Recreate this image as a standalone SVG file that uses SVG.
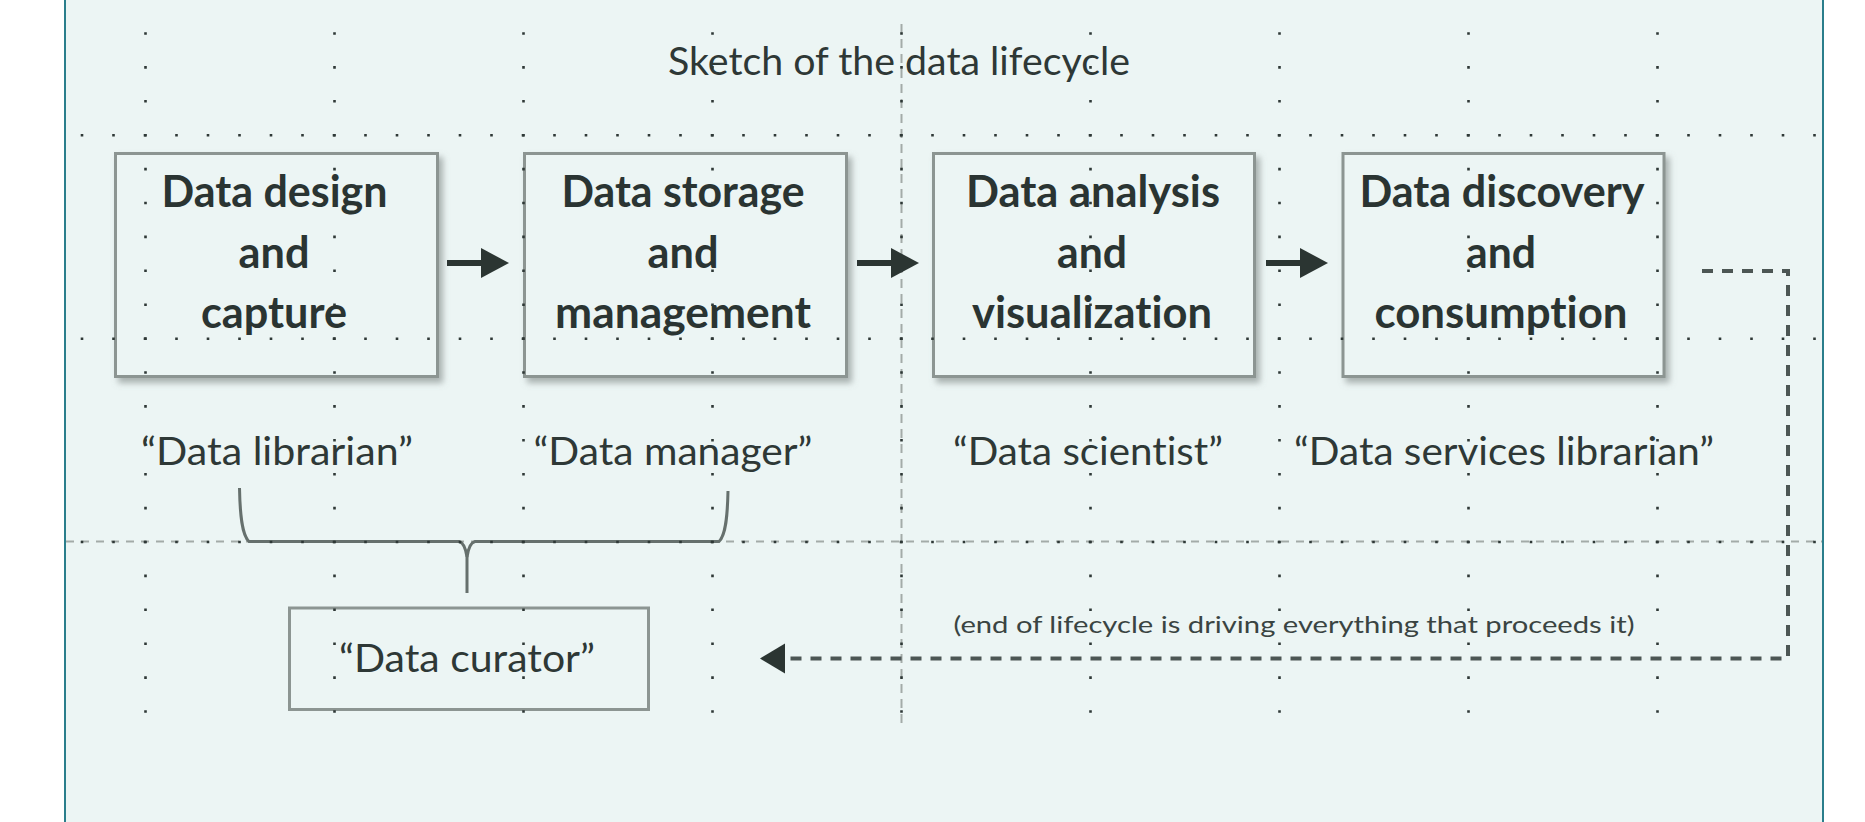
<svg xmlns="http://www.w3.org/2000/svg" width="1865" height="822" viewBox="0 0 1865 822">
  <defs>
    <style>
      text { font-variant-ligatures: none; font-feature-settings: "liga" 0, "dlig" 0, "clig" 0, "calt" 0; }
      .box { fill: #ECF5F4; stroke: #8C9592; stroke-width: 3; }
      .shadow { filter: url(#sh); }
      .bt { font-family: Lato, "Open Sans", sans-serif; font-weight: bold; font-size: 43px; fill: #2A3432; text-anchor: middle; }
      .rt { font-family: Lato, "Open Sans", sans-serif; font-size: 39px; fill: #2E3836; text-anchor: middle; }
      .nt { font-family: Lato, "Open Sans", sans-serif; font-size: 23px; fill: #3A4442; text-anchor: middle; }
      .guide { stroke: #A3ABA8; stroke-width: 2; fill: none; }
      .coldots { stroke: #2E3836; stroke-width: 2.6; stroke-dasharray: 2.6 31.3; fill: none; }
      .rowdots { stroke: #2E3836; stroke-width: 2.6; stroke-dasharray: 2.6 28.9; fill: none; }
      .flow { stroke: #2B3532; stroke-width: 6; fill: none; marker-end: url(#ah); }
      .fb { stroke: #4C5654; stroke-width: 4; stroke-dasharray: 11 9; fill: none; marker-end: url(#ahfb); }
      .brace { stroke: #66706D; stroke-width: 3; fill: none; }
    </style>
    <filter id="sh" x="-10%" y="-10%" width="130%" height="130%">
      <feDropShadow dx="4" dy="5" stdDeviation="3" flood-color="#7A8481" flood-opacity="0.6"/>
    </filter>
    <marker id="ah" markerUnits="userSpaceOnUse" markerWidth="30" markerHeight="32" viewBox="0 -16 30 32" refX="3" refY="0" orient="auto">
      <path d="M0,-15 L28,0 L0,15 Z" fill="#2B3532"/>
    </marker>
    <marker id="ahfb" markerUnits="userSpaceOnUse" markerWidth="28" markerHeight="32" viewBox="0 -16 28 32" refX="0" refY="0" orient="auto">
      <path d="M0,-15 L25,0 L0,15 Z" fill="#2B3532"/>
    </marker>
  </defs>

  <rect x="0" y="0" width="1865" height="822" fill="#FFFFFF"/>
  <rect x="65" y="-4" width="1758" height="830" fill="#ECF5F4" stroke="#2A7E8C" stroke-width="2"/>

  <g id="guides">
    <line class="guide" x1="901.5" y1="24" x2="901.5" y2="723" stroke-dasharray="9 6"/>
    <line class="guide" x1="66" y1="541.5" x2="1822" y2="541.5" stroke-dasharray="8 7"/>
  </g>

  <g id="title">
    <text class="rt" x="899" y="75" textLength="462" lengthAdjust="spacingAndGlyphs">Sketch of the data lifecycle</text>
  </g>

  <g id="node-design">
    <rect class="box shadow" x="115.5" y="153.5" width="322" height="223"/>
    <text class="bt" x="274.5" y="207" textLength="226" lengthAdjust="spacingAndGlyphs">Data design</text>
    <text class="bt" x="274" y="268" textLength="71" lengthAdjust="spacingAndGlyphs">and</text>
    <text class="bt" x="274" y="328" textLength="146" lengthAdjust="spacingAndGlyphs">capture</text>
  </g>

  <g id="node-storage">
    <rect class="box shadow" x="524.5" y="153.5" width="322" height="223"/>
    <text class="bt" x="683" y="207" textLength="243" lengthAdjust="spacingAndGlyphs">Data storage</text>
    <text class="bt" x="683" y="268" textLength="71" lengthAdjust="spacingAndGlyphs">and</text>
    <text class="bt" x="683" y="328" textLength="256" lengthAdjust="spacingAndGlyphs">management</text>
  </g>

  <g id="node-analysis">
    <rect class="box shadow" x="933.5" y="153.5" width="321" height="223"/>
    <text class="bt" x="1093" y="207" textLength="254" lengthAdjust="spacingAndGlyphs">Data analysis</text>
    <text class="bt" x="1092" y="268" textLength="70" lengthAdjust="spacingAndGlyphs">and</text>
    <text class="bt" x="1092" y="328" textLength="240" lengthAdjust="spacingAndGlyphs">visualization</text>
  </g>

  <g id="node-discovery">
    <rect class="box shadow" x="1343" y="153.5" width="321" height="223"/>
    <text class="bt" x="1502" y="207" textLength="285" lengthAdjust="spacingAndGlyphs">Data discovery</text>
    <text class="bt" x="1501" y="268" textLength="70" lengthAdjust="spacingAndGlyphs">and</text>
    <text class="bt" x="1501" y="328" textLength="253" lengthAdjust="spacingAndGlyphs">consumption</text>
  </g>

  <g id="role-librarian">
    <text class="rt" x="277" y="465" textLength="272" lengthAdjust="spacingAndGlyphs">“Data librarian”</text>
  </g>
  <g id="role-manager">
    <text class="rt" x="673" y="465" textLength="279" lengthAdjust="spacingAndGlyphs">“Data manager”</text>
  </g>
  <g id="role-scientist">
    <text class="rt" x="1088" y="465" textLength="270" lengthAdjust="spacingAndGlyphs">“Data scientist”</text>
  </g>
  <g id="role-services">
    <text class="rt" x="1504" y="465" textLength="420" lengthAdjust="spacingAndGlyphs">“Data services librarian”</text>
  </g>

  <g id="node-curator">
    <rect class="box" x="289.5" y="608" width="359" height="101.5"/>
    <text class="rt" x="467" y="672" textLength="256" lengthAdjust="spacingAndGlyphs">“Data curator”</text>
  </g>

  <g id="note">
    <text class="nt" x="1294" y="633" textLength="681" lengthAdjust="spacingAndGlyphs">(end of lifecycle is driving everything that proceeds it)</text>
  </g>

  <g id="connectors">
    <line class="flow" x1="447" y1="263" x2="484" y2="263"/>
    <line class="flow" x1="857" y1="263" x2="894" y2="263"/>
    <line class="flow" x1="1266" y1="263" x2="1303" y2="263"/>
    <path class="fb" d="M1702,271 H1788 V658.5 H785"/>
    <path class="brace" d="M239.5,488 C240,515 242,535 249,541.5 H459 Q465,543 467,557 V593"/>
    <path class="brace" d="M728,491 C727.5,515 726,535 719,541.5 H475 Q469,543 467,557"/>
  </g>

  <g id="grid">
    <line class="coldots" x1="145.5" y1="32.2" x2="145.5" y2="714"/>
    <line class="coldots" x1="334.5" y1="32.2" x2="334.5" y2="714"/>
    <line class="coldots" x1="523.5" y1="32.2" x2="523.5" y2="714"/>
    <line class="coldots" x1="712.5" y1="32.2" x2="712.5" y2="714"/>
    <line class="coldots" x1="901.5" y1="32.2" x2="901.5" y2="714"/>
    <line class="coldots" x1="1090.5" y1="32.2" x2="1090.5" y2="714"/>
    <line class="coldots" x1="1279.5" y1="32.2" x2="1279.5" y2="714"/>
    <line class="coldots" x1="1468.5" y1="32.2" x2="1468.5" y2="714"/>
    <line class="coldots" x1="1657.5" y1="32.2" x2="1657.5" y2="714"/>
    <line class="rowdots" x1="80.7" y1="135.3" x2="1816" y2="135.3"/>
    <line class="rowdots" x1="80.7" y1="338.7" x2="1816" y2="338.7"/>
    <line class="rowdots" x1="80.7" y1="542" x2="1816" y2="542"/>
  </g>
</svg>
